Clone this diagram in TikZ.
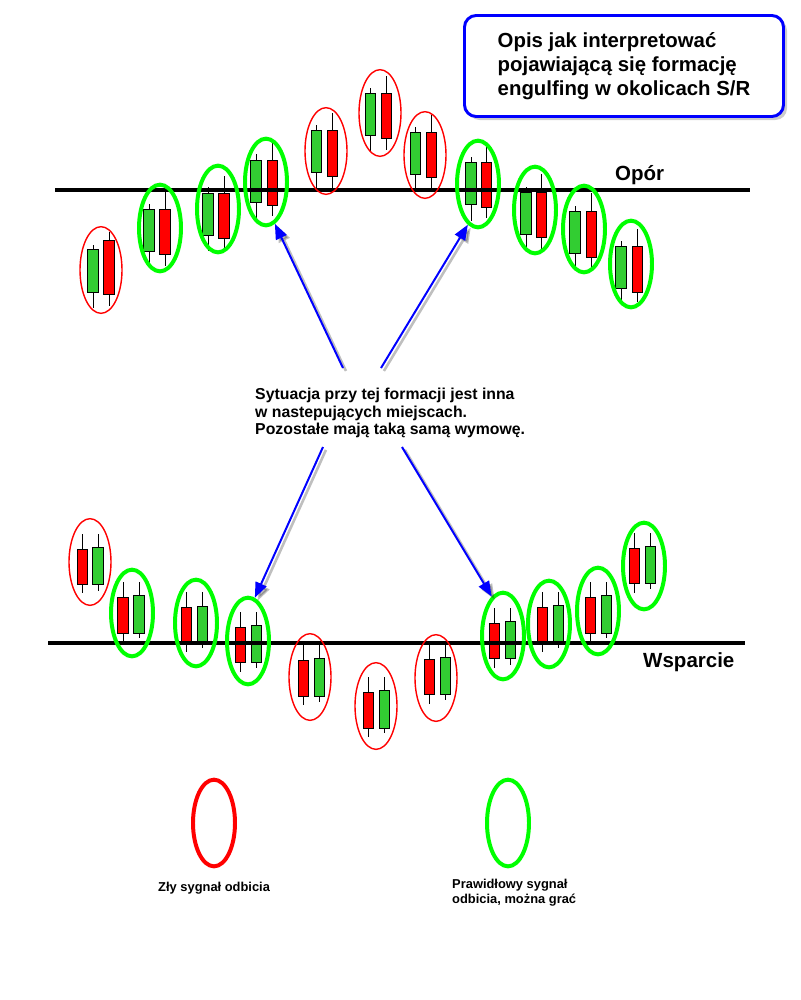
\documentclass[tikz,border=0pt]{standalone}
\usepackage{fontspec}
\setmainfont{Liberation Sans}
\usetikzlibrary{shapes.geometric,arrows.meta,shadows}
\definecolor{candlegreen}{RGB}{50,205,50}
\definecolor{candlered}{RGB}{255,0,0}
\definecolor{siggreen}{RGB}{0,255,0}
\definecolor{sigred}{RGB}{255,0,0}
\definecolor{arrowblue}{RGB}{0,0,255}
\begin{document}
\begin{tikzpicture}[x=0.03cm, y=-0.03cm,
    signal/.style={ellipse, inner sep=0pt, minimum width=1.26cm, minimum height=2.6cm},
    good/.style={signal, draw=siggreen, line width=3.4pt},
    bad/.style={signal, draw=sigred, line width=1.2pt},
    badkey/.style={signal, draw=sigred, line width=3.4pt},
    pointer/.style={draw=arrowblue, line width=1.7pt, -{Triangle[length=13pt, width=10pt]}},
    arrowshadow/.style={draw=black, opacity=0.25, line width=2.2pt, -{Triangle[length=13pt, width=10pt]}},
    srline/.style={line width=3.8pt},
    lbl/.style={font=\bfseries\fontsize{17.5}{20}\selectfont, inner sep=0pt},
    candle/.style={line width=0.8pt}]
\useasboundingbox (0,0) rectangle (800,1000);
% Candles at resistance
\foreach \cx/\wt/\bt/\bb/\wb/\col in {
    93/245/249/292/308/candlegreen, 109/232/240/294/306/candlered,
    149/204/209/251/264/candlegreen, 165/190/209/254/266/candlered,
    208/187/193/235/251/candlegreen, 224/176/193/238/249/candlered,
    256/154/160/202/218/candlegreen, 272.5/142/160/205/216/candlered,
    316.5/125/130/172/188/candlegreen, 332.5/113/130/176/188/candlered,
    370.5/88/93/135/152/candlegreen, 386.5/76/93/138/150/candlered,
    415.5/127/132/174/190/candlegreen, 431.5/115/132/177/188/candlered,
    471/157/162/204/221/candlegreen, 486.5/145/162/207/218/candlered,
    526/187/192/234/248/candlegreen, 541.5/174/192/237/249/candlered,
    575/206/211/253/267/candlegreen, 591.5/193/211/257/267/candlered,
    621/241/246/288/304/candlegreen, 637.5/229/246/292/302/candlered}
  {\draw[candle] (\cx,\wt) -- (\cx,\wb);
   \draw[candle, fill=\col] (\cx-5.25,\bt) rectangle (\cx+5.25,\bb);}
% Candles at support
\foreach \cx/\wt/\bt/\bb/\wb/\col in {
    82.5/534/549/584/593/candlered, 98/534/547/584/591/candlegreen,
    123/582/597/633/642/candlered, 139/582/595/633/638/candlegreen,
    186.5/592/607/643/652/candlered, 202.5/592/606/643/648/candlegreen,
    240.5/612/627/662/672/candlered, 256.5/612/625/662/668/candlegreen,
    303.5/645/660/696/705/candlered, 319.5/645/658/696/702/candlegreen,
    368.5/677/692/728/737/candlered, 384.5/677/690/728/733/candlegreen,
    429.5/645/659/694/704/candlered, 445.5/645/657/694/700/candlegreen,
    494.5/608/623/658/668/candlered, 510.5/608/621/658/665/candlegreen,
    542.5/592/607/643/652/candlered, 558.5/592/605/643/648/candlegreen,
    590.5/582/597/633/642/candlered, 606.5/582/595/633/638/candlegreen,
    634.5/533/548/583/593/candlered, 650.5/533/546/583/589/candlegreen}
  {\draw[candle] (\cx,\wt) -- (\cx,\wb);
   \draw[candle, fill=\col] (\cx-5.25,\bt) rectangle (\cx+5.25,\bb);}
% S/R levels
\draw[srline] (55,190) -- (750,190);
\draw[srline] (48,643) -- (745,643);
\node[lbl, anchor=base west] (opor) at (615,180) {Opór};
\node[lbl, anchor=base west] (wsparcie) at (643,667) {Wsparcie};
% Signal ellipses
\foreach \n/\x/\y/\s in {t1/101/270/bad, t2/160/228/good, t3/218/209/good, t4/266/182/good,
    t5/326/151/bad, t6/380/113/bad, t7/425/155/bad, t8/478/184/good,
    t9/535/210/good, t10/584/229/good, t11/631/264/good,
    b1/90/562/bad, b2/132/613/good, b3/196/623/good, b4/248/641/good,
    b5/310/677/bad, b6/376/706/bad, b7/436/678/bad, b8/503/636/good,
    b9/549/624/good, b10/598/611/good, b11/644/566/good}
  {\node[\s] (\n) at (\x,\y) {};}
% Description and pointers
\node[font=\bfseries\fontsize{13.5}{15}\selectfont, align=left, anchor=north west, inner sep=0pt] (info) at (255,388)
  {Sytuacja przy tej formacji jest inna\\w nastepujących miejscach.\\Pozostałe mają taką samą wymowę.};
\coordinate (s1) at (343,368);
\coordinate (s2) at (381,368);
\coordinate (s3) at (323,447);
\coordinate (s4) at (402,447);
\begin{scope}[transform canvas={xshift=2.5pt, yshift=-2.5pt}]
  \draw[arrowshadow] (s1) -- (t4.-78);
  \draw[arrowshadow] (s2) -- (t8.-104);
  \draw[arrowshadow] (s3) -- (b4.81);
  \draw[arrowshadow] (s4) -- (b8.106);
\end{scope}
\draw[pointer] (s1) -- (t4.-78);
\draw[pointer] (s2) -- (t8.-104);
\draw[pointer] (s3) -- (b4.81);
\draw[pointer] (s4) -- (b8.106);
% Title
\node[draw=blue, line width=2.5pt, fill=white, rounded corners=0.35cm, minimum width=9.57cm, minimum height=3.03cm,
  drop shadow={shadow xshift=3pt, shadow yshift=-3pt, fill=black!40},
  align=left, font=\bfseries\fontsize{17.4}{20.4}\selectfont] (title) at (624,66)
  {Opis jak interpretować\\pojawiającą się formację\\engulfing w okolicach S/R};
% Legend
\node[badkey] (badkey) at (214,823) {};
\node[good] (goodkey) at (508,823) {};
\node[font=\bfseries\fontsize{11}{12.8}\selectfont, anchor=north west, inner sep=0pt] (badlbl) at (158,882) {Zły sygnał odbicia};
\node[font=\bfseries\fontsize{11}{12.8}\selectfont, align=left, anchor=north west, inner sep=0pt] (goodlbl) at (452,879)
  {Prawidłowy sygnał\\odbicia, można grać};
\end{tikzpicture}
\end{document}
